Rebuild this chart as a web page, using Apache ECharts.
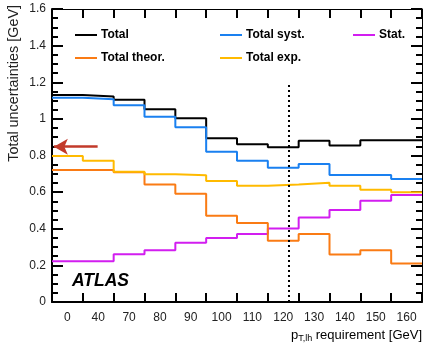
<!DOCTYPE html>
<html>
<head>
<meta charset="utf-8">
<script src="https://cdn.jsdelivr.net/npm/echarts@6/dist/echarts.min.js"></script>
<style>
  html, body { margin: 0; padding: 0; background: #fff; }
  #main { width: 425px; height: 343px; }
</style>
</head>
<body>
<div id="main"></div>
<script>
// bin labels (pT,lh requirement)
var binLabels = ['0', '40', '70', '80', '90', '100', '110', '120', '130', '140', '150', '160'];
// uncertainties per bin [GeV]
var totalVals = [1.131, 1.122, 1.104, 1.053, 1.004, 0.894, 0.861, 0.845, 0.881, 0.854, 0.883, 0.883];
var systVals  = [1.116, 1.107, 1.075, 1.012, 0.954, 0.821, 0.772, 0.733, 0.753, 0.693, 0.693, 0.671];
var statVals  = [0.223, 0.223, 0.261, 0.283, 0.323, 0.350, 0.372, 0.401, 0.462, 0.502, 0.553, 0.584];
var theorVals = [0.721, 0.721, 0.708, 0.642, 0.591, 0.471, 0.432, 0.334, 0.372, 0.259, 0.283, 0.210];
var expVals   = [0.797, 0.772, 0.711, 0.697, 0.692, 0.661, 0.635, 0.642, 0.651, 0.635, 0.613, 0.600];
var cutPos = 7.69;      // dotted line (in bin units)
var cutTop = 1.2;
var arrowVal = 0.848;   // red arrow level
var arrowFrom = 1.48, arrowTo = 0.06;

var myChart = echarts.init(document.getElementById('main'));

// step data: left edge of each bin + closing point at right edge
function stepData(vals) {
    var d = [];
    for (var i = 0; i < vals.length; i++) {
        d.push([i, vals[i]]);
    }
    d.push([vals.length, vals[vals.length - 1]]);
    return d;
}

function stepSeries(name, vals, color) {
    return {
        name: name,
        type: 'line',
        step: 'end',
        data: stepData(vals),
        showSymbol: false,
        symbol: 'none',
        lineStyle: { color: color, width: 2 },
        itemStyle: { color: color },
        z: 3
    };
}

function legendItem(name, left, top) {
    return {
        data: [name],
        left: left,
        top: top,
        icon: 'rect',
        itemWidth: 22,
        itemHeight: 2,
        itemGap: 4,
        selectedMode: false,
        textStyle: { fontFamily: 'Liberation Sans', fontWeight: 'bold', fontSize: 12, color: '#000', padding: [0, 0, 0, -1] }
    };
}

var fontF = 'Liberation Sans';
var nBins = binLabels.length;
var tickStyle = { color: '#000', width: 2 };

var option = {
    animation: false,
    grid: { left: 52, right: 3, top: 9, bottom: 41 },
    legend: [
        legendItem('Total', 70, 24),
        legendItem('Total syst.', 215, 24),
        legendItem('Stat.', 348, 24),
        legendItem('Total theor.', 70, 47),
        legendItem('Total exp.', 215, 47)
    ],
    xAxis: [{
        type: 'value', min: 0, max: nBins, interval: 1,
        axisLine: { show: true, onZero: false, lineStyle: { color: '#000', width: 2 } },
        axisTick: { show: true, inside: true, length: 9, lineStyle: tickStyle },
        axisLabel: { show: false },
        splitLine: { show: false }
    }, {
        type: 'category', data: binLabels, boundaryGap: true, position: 'bottom',
        axisLine: { show: false, onZero: false }, axisTick: { show: false },
        axisLabel: { show: true, interval: 0, fontFamily: fontF, fontSize: 12, color: '#222', margin: 10 },
        splitLine: { show: false }
    }, {
        type: 'value', min: 0, max: nBins, interval: 1, position: 'top',
        axisLine: { show: true, onZero: false, lineStyle: { color: '#000', width: 1 } },
        axisTick: { show: true, inside: true, length: 9, lineStyle: tickStyle },
        axisLabel: { show: false }, splitLine: { show: false }
    }],
    yAxis: [{
        type: 'value', min: 0, max: 1.6, interval: 0.2,
        axisLine: { show: true, onZero: false, lineStyle: { color: '#000', width: 2 } },
        axisTick: { show: true, inside: true, length: 11, lineStyle: tickStyle },
        minorTick: { show: true, splitNumber: 4, length: 6, lineStyle: tickStyle },
        axisLabel: { fontFamily: fontF, fontSize: 12, color: '#222', margin: 6 },
        splitLine: { show: false }
    }, {
        type: 'value', min: 0, max: 1.6, interval: 0.2, position: 'right',
        axisLine: { show: true, onZero: false, lineStyle: { color: '#000', width: 1 } },
        axisTick: { show: true, inside: true, length: 11, lineStyle: tickStyle },
        minorTick: { show: true, splitNumber: 4, length: 6, lineStyle: tickStyle },
        axisLabel: { show: false }, splitLine: { show: false }
    }],
    series: [
        stepSeries('Total', totalVals, '#000000'),
        stepSeries('Total syst.', systVals, '#1a80f0'),
        stepSeries('Stat.', statVals, '#d21ef0'),
        stepSeries('Total theor.', theorVals, '#fa7b14'),
        stepSeries('Total exp.', expVals, '#ffba00'),
        {
            type: 'line', data: [], silent: true,
            markLine: {
                silent: true, animation: false,
                label: { show: false },
                data: [
                    [{ coord: [cutPos, 0], symbol: 'none', lineStyle: { color: '#000', type: [2, 3], width: 2 } },
                     { coord: [cutPos, cutTop], symbol: 'none' }],
                    [{ coord: [arrowFrom, arrowVal], symbol: 'none', lineStyle: { color: '#c23a2a', type: 'solid', width: 2.5 } },
                     { coord: [arrowTo, arrowVal], symbol: 'arrow', symbolSize: [12, 14] }]
                ]
            }
        }
    ],
    graphic: [{
        type: 'text', x: 14, y: 5, rotation: Math.PI / 2,
        style: { text: 'Total uncertainties [GeV]', font: '14.4px "Liberation Sans"', fill: '#222', align: 'right', verticalAlign: 'middle' }
    }, {
        type: 'text', x: 422, y: 335,
        style: {
            text: '{n|p}{s|T,lh}{n| requirement [GeV]}',
            align: 'right', verticalAlign: 'middle',
            rich: {
                n: { fontFamily: fontF, fontSize: 13, color: '#222' },
                s: { fontFamily: fontF, fontSize: 9, color: '#222', padding: [8, 0, 0, 0] }
            }
        }
    }, {
        type: 'text', x: 72, y: 281,
        style: { text: 'ATLAS', font: 'italic bold 17.5px "Liberation Sans"', fill: '#000', verticalAlign: 'middle' }
    }]
};

myChart.setOption(option);
</script>
</body>
</html>
